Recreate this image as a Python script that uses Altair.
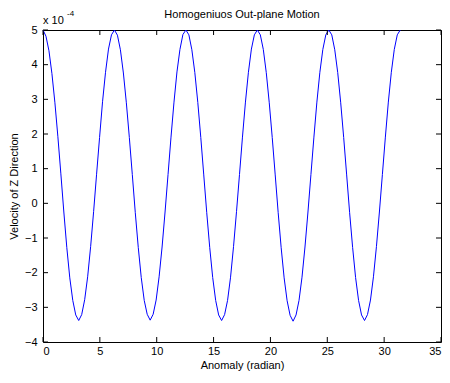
import altair as alt
import pandas as pd

# Anomaly sample step (radian) and the read-off velocity values (x 1e-4), one list per cycle
step = 0.2618
cycle1 = [5.00, 4.82, 4.40, 3.74, 2.90, 1.92, 0.85, -0.25, -1.28, -2.15, -2.80, -3.22, -3.38,
          -3.21, -2.78, -2.12, -1.25, -0.24, 0.84, 1.90, 2.93, 3.78, 4.45, 4.86]
cycle2 = [5.00, 4.85, 4.43, 3.76, 2.90, 1.90, 0.83, -0.27, -1.27, -2.14, -2.80, -3.20, -3.37,
          -3.20, -2.79, -2.12, -1.26, -0.25, 0.83, 1.91, 2.92, 3.79, 4.44, 4.87]
cycle3 = [5.00, 4.86, 4.43, 3.77, 2.91, 1.90, 0.82, -0.27, -1.27, -2.14, -2.80, -3.22, -3.38,
          -3.21, -2.80, -2.13, -1.25, -0.24, 0.83, 1.91, 2.92, 3.78, 4.45, 4.86]
cycle4 = [5.00, 4.86, 4.44, 3.77, 2.90, 1.90, 0.82, -0.27, -1.28, -2.15, -2.81, -3.23, -3.40,
          -3.22, -2.80, -2.13, -1.26, -0.25, 0.83, 1.91, 2.92, 3.78, 4.44, 4.86]
cycle5 = [5.00, 4.86, 4.43, 3.77, 2.90, 1.90, 0.82, -0.27, -1.27, -2.14, -2.80, -3.22, -3.38,
          -3.21, -2.79, -2.12, -1.25, -0.25, 0.83, 1.91, 2.92, 3.78, 4.44, 4.86, 5.00]
velocity = cycle1 + cycle2 + cycle3 + cycle4 + cycle5
anomaly = [round(i * step, 4) for i in range(len(velocity))]

x_ticks = [0, 5, 10, 15, 20, 25, 30, 35]
y_ticks = [-4, -3, -2, -1, 0, 1, 2, 3, 4, 5]
title_text = "Homogeniuos Out-plane Motion"

W, H = 398, 312
FONT = "Liberation Sans"

df = pd.DataFrame({"x": anomaly, "y": velocity})
xt = pd.DataFrame({"x": x_ticks})
yt = pd.DataFrame({"y": y_ticks})
one = pd.DataFrame({"a": [0]})

xscale = alt.Scale(domain=[0, 35], nice=False, zero=False)
yscale = alt.Scale(domain=[-4, 5], nice=False, zero=False)
xaxis = alt.Axis(values=x_ticks, title="Anomaly (radian)", grid=False, ticks=False,
                 domain=False, labelPadding=3, titlePadding=3, format="d", labelOverlap=False)
yaxis = alt.Axis(values=y_ticks, title="Velocity of Z Direction", grid=False, ticks=False,
                 domain=False, labelPadding=6, titlePadding=5, format="d", labelOverlap=False)

X = alt.X("x:Q", scale=xscale, axis=xaxis)
Y = alt.Y("y:Q", scale=yscale, axis=yaxis)

line = alt.Chart(df).mark_line(color="#0000FF", strokeWidth=1).encode(x=X, y=Y)

tick_len = 5
xb = alt.Chart(xt).mark_rule(color="black", strokeWidth=1).encode(
    x=X, y=alt.value(H), y2=alt.value(H - tick_len))
xtop = alt.Chart(xt).mark_rule(color="black", strokeWidth=1).encode(
    x=X, y=alt.value(0), y2=alt.value(tick_len))
yl = alt.Chart(yt).mark_rule(color="black", strokeWidth=1).encode(
    y=Y, x=alt.value(0), x2=alt.value(tick_len))
yr = alt.Chart(yt).mark_rule(color="black", strokeWidth=1).encode(
    y=Y, x=alt.value(W), x2=alt.value(W - tick_len))

title = alt.Chart(one).mark_text(
    text=title_text, font=FONT, fontSize=11, align="center", baseline="middle", color="black"
).encode(x=alt.value(W / 2), y=alt.value(-15))
exp_base = alt.Chart(one).mark_text(
    text="x 10", font=FONT, fontSize=11, align="left", baseline="middle", color="black"
).encode(x=alt.value(0), y=alt.value(-9))
exp_sup = alt.Chart(one).mark_text(
    text="-4", font=FONT, fontSize=8, align="left", baseline="middle", color="black"
).encode(x=alt.value(24), y=alt.value(-16))

chart = alt.layer(line, xb, xtop, yl, yr, title, exp_base, exp_sup).properties(
    width=W, height=H,
    autosize=alt.AutoSizeParams(type="none"),
    padding={"left": 35, "top": 22, "right": 1, "bottom": 33},
).configure_view(stroke="black", strokeWidth=1).configure_axis(
    labelFont=FONT, labelFontSize=11, labelColor="black",
    titleFont=FONT, titleFontSize=11, titleFontWeight="normal", titleColor="black",
)

chart.save("out.html", embed_options={"renderer": "svg", "actions": False})
